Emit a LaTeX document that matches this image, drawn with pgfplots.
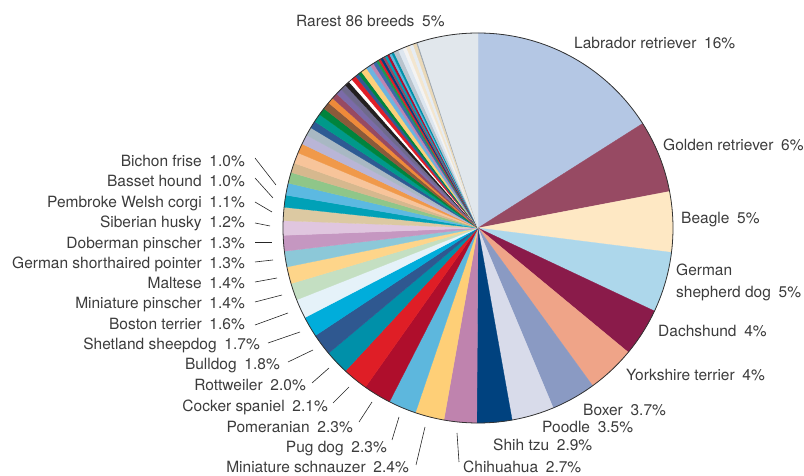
\documentclass[border=0pt]{standalone}
\usepackage{pgfplots}
\usepackage{pgfplotstable}
\pgfplotsset{compat=1.18}
\usepackage{fontspec}
\setmainfont{TeX Gyre Heros}
\definecolor{txt}{HTML}{3C3C3C}
\definecolor{rim}{HTML}{333333}
\newcommand\gap{\hspace{0.5em}}
\tikzset{lab/.style={font=\fontsize{15.5}{18}\selectfont, text=txt, inner sep=0pt},
         lead/.style={no marks, draw=black!85, line width=0.6pt, solid}}

% value (percent) and slice colour, clockwise from 12 o'clock
\pgfplotstableread{
val col
16  B4C7E4
6   974A63
5   FEE8C4
5   ADD7EB
4   8A1B4A
4   EFA488
3.7 8A9AC3
3.5 D8DBEA
2.9 00427F
2.7 BF83AE
2.4 FECF77
2.3 5DB7DD
2.3 AF0E2C
2.1 DF1E26
2.0 0090A9
1.8 2F5890
1.7 00ADDB
1.6 E5F2F9
1.4 C4DFC2
1.4 FED58A
1.3 8CC8D8
1.3 C597C1
1.2 E0C6DF
1.1 DCC9A2
1.0 00A1B7
1.0 5CB9E1
0.9 8FC689
0.8 D6B88E
0.9 F7C49A
0.8 F0994A
0.8 B9B5D6
0.7 A8B8C3
0.6 2E5A93
0.7 00998A
0.6 00843D
0.6 8B5A3A
0.5 EE8A3A
0.5 974A62
0.5 7B6BA8
0.5 6F6A8C
0.4 231F20
0.3 FFFFFF
0.4 E01E28
0.3 2E5A93
0.3 00843D
0.5 FDD07A
0.4 6CB4E0
0.3 C084B0
0.3 3A6AA8
0.2 1A9A50
0.2 E01E28
0.2 004080
0.2 974A62
0.2 00A0B8
0.2 B01030
0.2 5EB8DD
0.2 0090A8
0.4 B8C4CE
0.4 DDE6EF
0.3 F3F3F3
0.3 F3E6CF
0.3 E6ECF3
0.3 EAD9B8
0.1 9AA4AE
5.0 E1E7EC
}\piedata
\pgfplotstablegetrowsof{\piedata}
\pgfmathtruncatemacro{\lastrow}{\pgfplotsretval-1}

\begin{document}
\begin{tikzpicture}
\begin{axis}[
  x=1pt, y=1pt,
  xmin=0, xmax=804, ymin=0, ymax=476,
  scale only axis, hide axis, clip=false,
]
\pgfplotsextra{
  \def\cum{0}
  \pgfplotsforeachungrouped \i in {0,...,\lastrow}{
    \pgfplotstablegetelem{\i}{val}\of\piedata \edef\v{\pgfplotsretval}
    \pgfplotstablegetelem{\i}{col}\of\piedata \edef\c{\pgfplotsretval}
    \definecolor{slc}{HTML}{\c}
    \pgfmathsetmacro\a{90-3.6*\cum}
    \pgfmathsetmacro\b{90-3.6*(\cum+\v)}
    \fill[slc, draw=slc, line width=0.3pt] (axis cs:478,248) -- ++(\a:195pt)
       arc[start angle=\a, end angle=\b, radius=195pt] -- cycle;
    \pgfmathsetmacro\cum{\cum+\v}
  }
  \draw[rim, line width=0.8pt] (axis cs:478,248) circle[radius=195pt];
}

% leader lines
\addplot[lead] coordinates {(255,318) (276,291)};
\addplot[lead] coordinates {(255,298) (273,278)};
\addplot[lead] coordinates {(255,274) (272,264)};
\addplot[lead] coordinates {(255,253) (270,250)};
\addplot[lead] coordinates {(255,234) (272,234)};
\addplot[lead] coordinates {(255,214) (273,216)};
\addplot[lead] coordinates {(255,194) (277,198)};
\addplot[lead] coordinates {(255,174) (282,181)};
\addplot[lead] coordinates {(255,151) (288,163)};
\addplot[lead] coordinates {(268,133) (300,144)};
\addplot[lead] coordinates {(288,114) (313,126)};
\addplot[lead] coordinates {(312,93) (329,108)};
\addplot[lead] coordinates {(333,73) (349,89)};
\addplot[lead] coordinates {(359,54) (372,74)};
\addplot[lead] coordinates {(392,36) (399,59)};
\addplot[lead] coordinates {(416,11) (425,49)};
\addplot[lead] coordinates {(459,14) (457,43)};

% right-hand labels
\node[lab, anchor=base west] at (axis cs:574,427.3) {Labrador retriever\gap16\%};
\node[lab, anchor=base west] at (axis cs:663,325.3) {Golden retriever\gap6\%};
\node[lab, anchor=base west] at (axis cs:681,252.3) {Beagle\gap5\%};
\node[lab, anchor=base west] at (axis cs:676,200.3) {German};
\node[lab, anchor=base west] at (axis cs:676,178.3) {shepherd dog\gap5\%};
\node[lab, anchor=base west] at (axis cs:658,139.3) {Dachshund\gap4\%};
\node[lab, anchor=base west] at (axis cs:626,95.3) {Yorkshire terrier\gap4\%};
\node[lab, anchor=base west] at (axis cs:583,60.3) {Boxer\gap3.7\%};
\node[lab, anchor=base west] at (axis cs:542,43.3) {Poodle\gap3.5\%};
\node[lab, anchor=base west] at (axis cs:493,25.3) {Shih tzu\gap2.9\%};
\node[lab, anchor=base west] at (axis cs:463,3) {Chihuahua\gap2.7\%};
\node[lab, anchor=base west] at (axis cs:296,449.3) {Rarest 86 breeds\gap5\%};

% left-hand labels
\node[lab, anchor=base east] at (axis cs:245,309.3) {Bichon frise\gap1.0\%};
\node[lab, anchor=base east] at (axis cs:245,289.3) {Basset hound\gap1.0\%};
\node[lab, anchor=base east] at (axis cs:245,268.3) {Pembroke Welsh corgi\gap1.1\%};
\node[lab, anchor=base east] at (axis cs:245,248.3) {Siberian husky\gap1.2\%};
\node[lab, anchor=base east] at (axis cs:245,227.3) {Doberman pinscher\gap1.3\%};
\node[lab, anchor=base east] at (axis cs:245,207.3) {German shorthaired pointer\gap1.3\%};
\node[lab, anchor=base east] at (axis cs:245,187.3) {Maltese\gap1.4\%};
\node[lab, anchor=base east] at (axis cs:245,167.3) {Miniature pinscher\gap1.4\%};
\node[lab, anchor=base east] at (axis cs:245,146.3) {Boston terrier\gap1.6\%};
\node[lab, anchor=base east] at (axis cs:260,126.3) {Shetland sheepdog\gap1.7\%};
\node[lab, anchor=base east] at (axis cs:280,106.3) {Bulldog\gap1.8\%};
\node[lab, anchor=base east] at (axis cs:306,85.3) {Rottweiler\gap2.0\%};
\node[lab, anchor=base east] at (axis cs:328,64.3) {Cocker spaniel\gap2.1\%};
\node[lab, anchor=base east] at (axis cs:353,43.3) {Pomeranian\gap2.3\%};
\node[lab, anchor=base east] at (axis cs:387,23.3) {Pug dog\gap2.3\%};
\node[lab, anchor=base east] at (axis cs:409,3.3) {Miniature schnauzer\gap2.4\%};
\end{axis}
\pgfresetboundingbox
\path[use as bounding box] (0,0) rectangle (804pt,476pt);
\end{tikzpicture}
\end{document}
